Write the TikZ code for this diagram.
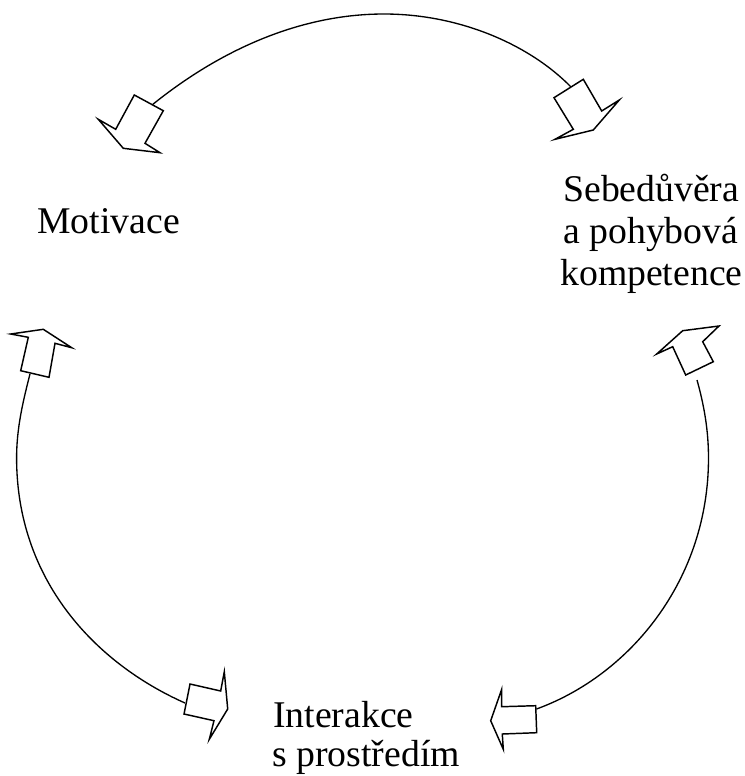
\documentclass[tikz,border=0pt]{standalone}
\usepackage{fontspec}
\setmainfont{Liberation Serif}
\begin{document}
\begin{tikzpicture}[x=0.75pt,y=-0.75pt,
  blockarrow/.style={draw=black,fill=white,line width=1.1pt,line join=miter},
  arcline/.style={draw=black,line width=1pt},
  lbl/.style={anchor=base west,inner sep=0pt,font=\fontsize{28.3pt}{31.5pt}\selectfont}]
\useasboundingbox (0,0) rectangle (745,776);

% labels
\node[lbl] (mot) at (37,233) {Motivace};
\node[lbl] (seb1) at (563,201) {Sebedůvěra};
\node[lbl] (seb2) at (563,243) {a pohybová};
\node[lbl] (seb3) at (560,285) {kompetence};
\node[lbl] (int1) at (273,727) {Interakce};
\node[lbl] (int2) at (272,766) {s prostředím};

% curve end points
\coordinate (topL) at (152,105);
\coordinate (topM) at (384,14);
\coordinate (topR) at (571,87);
\coordinate (leftT) at (30,374);
\coordinate (leftM) at (16.6,458);
\coordinate (leftB) at (185,703);
\coordinate (rightT) at (697,380);
\coordinate (rightM) at (708.5,458);
\coordinate (rightB) at (536.5,709);

% curves
\draw[arcline] (topL) .. controls (220,50) and (300,14) .. (topM)
  .. controls (460,14) and (530,45) .. (topR);
\draw[arcline] (leftT) .. controls (22,405) and (16.6,430) .. (leftM)
  .. controls (16.6,580) and (95,663) .. (leftB);
\draw[arcline] (rightT) .. controls (704,405) and (708.5,430) .. (rightM)
  .. controls (708.5,580) and (630,675) .. (rightB);

% block arrows
\draw[blockarrow] (134.3,95) -- (163.3,110.7) -- (145,143.3) -- (160,152.7) -- (123.3,148.3) -- (98.3,119.3) -- (115.7,129.3) -- cycle;
\draw[blockarrow] (554,97.7) -- (583.3,79.3) -- (601.7,111) -- (619.3,100) -- (593.3,130) -- (555,139.3) -- (573.3,129.3) -- cycle;
\draw[blockarrow] (20.7,370.7) -- (49,377.3) -- (55,343.3) -- (71.7,347.7) -- (43.3,329.3) -- (10.7,334) -- (28.3,337.3) -- cycle;
\draw[blockarrow] (685.7,375) -- (713.3,361.7) -- (702.7,341.7) -- (719,326) -- (682.7,330.7) -- (656.7,354) -- (672.7,346.7) -- cycle;
\draw[blockarrow] (535.7,705.7) -- (536.7,732.7) -- (502.3,734) -- (503.3,749.3) -- (490.7,720.7) -- (501.7,689.3) -- (501.7,706.7) -- cycle;
\draw[blockarrow] (190,684) -- (220.7,691) -- (224.3,671.7) -- (227.7,709) -- (209.3,739.3) -- (214,720.7) -- (184,714) -- cycle;
\end{tikzpicture}
\end{document}
